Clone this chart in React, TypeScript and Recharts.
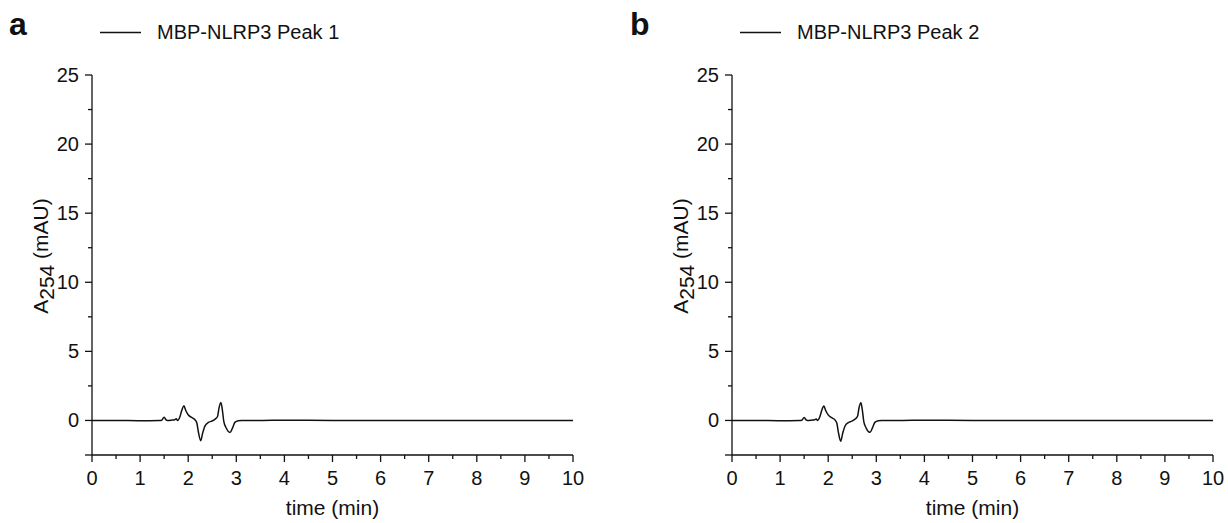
import { LineChart, Line, XAxis, YAxis, Legend } from 'recharts';

// retention times (min) sampled along the trace
const times = [
  0, 0.5, 1, 1.4, 1.45, 1.5, 1.54, 1.57, 1.65, 1.72, 1.75, 1.78, 1.83, 1.87, 1.91, 1.95,
  2.0, 2.07, 2.14, 2.18, 2.21, 2.26, 2.3, 2.35, 2.42, 2.49, 2.56, 2.61, 2.64, 2.68, 2.71,
  2.74, 2.79, 2.87, 2.92, 2.97, 3.04, 3.11, 3.5, 4, 5, 6, 7, 8, 9, 10,
];

// A254 (mAU), peak 1
const peak1 = [
  0, 0, -0.02, 0, 0.02, 0.24, 0.04, 0, 0.02, 0.05, 0.12, 0.0, 0.29, 0.77, 1.06, 0.72,
  0.41, 0.22, 0.05, -0.19, -0.8, -1.47, -0.92, -0.39, -0.14, -0.05, 0.1, 0.29, 0.89, 1.3, 0.77,
  -0.07, -0.55, -0.87, -0.55, -0.14, -0.02, 0, 0, 0.02, 0, 0, 0, 0, 0, 0,
];

// A254 (mAU), peak 2
const peak2 = [
  0, 0, -0.02, 0, 0.02, 0.22, 0.04, 0, 0.02, 0.05, 0.1, 0.0, 0.3, 0.78, 1.04, 0.7,
  0.4, 0.2, 0.04, -0.2, -0.82, -1.5, -0.95, -0.4, -0.15, -0.05, 0.1, 0.3, 0.9, 1.28, 0.75,
  -0.08, -0.55, -0.86, -0.54, -0.14, -0.02, 0, 0, 0.02, 0, 0, 0, 0, 0, 0,
];

const xTicks = [0, 0.5, 1, 1.5, 2, 2.5, 3, 3.5, 4, 4.5, 5, 5.5, 6, 6.5, 7, 7.5, 8, 8.5, 9, 9.5, 10];
const yTicks = [-2.5, 0, 2.5, 5, 7.5, 10, 12.5, 15, 17.5, 20, 22.5, 25];

const FONT = '"Liberation Sans", Arial, sans-serif';
const INK = '#111';

const XTick = (props: any) => {
  const { x, y, payload } = props;
  const major = Number.isInteger(payload.value);
  return (
    <g>
      <line x1={x} x2={x} y1={y} y2={y + (major ? 7 : 4)} stroke={INK} strokeWidth={1.3} />
      {major && (
        <text x={x} y={y + 30} textAnchor="middle" fontSize={20} fontFamily={FONT} fill={INK}>
          {payload.value}
        </text>
      )}
    </g>
  );
};

const YTick = (props: any) => {
  const { x, y, payload } = props;
  const major = payload.value % 5 === 0;
  const long = major || payload.value === -2.5;
  return (
    <g>
      <line x1={x - (long ? 7 : 4)} x2={x} y1={y} y2={y} stroke={INK} strokeWidth={1.3} />
      {major && (
        <text x={x - 13} y={y + 7} textAnchor="end" fontSize={20} fontFamily={FONT} fill={INK}>
          {payload.value}
        </text>
      )}
    </g>
  );
};

const XTitle = (props: any) => {
  const { x, y, width } = props.viewBox;
  return (
    <text x={x + width / 2} y={y + 60} textAnchor="middle" fontSize={21} fontFamily={FONT} fill={INK}>
      time (min)
    </text>
  );
};

const YTitle = (props: any) => {
  const { y, height } = props.viewBox;
  return (
    <text
      transform={`translate(48, ${y + height / 2 - 9}) rotate(-90)`}
      textAnchor="middle"
      fontSize={21}
      fontFamily={FONT}
      fill={INK}
    >
      <tspan>A</tspan>
      <tspan dy={6}>254</tspan>
      <tspan dy={-6}>{'\u00a0(mAU)'}</tspan>
    </text>
  );
};

const LegendBox = (props: any) => {
  const item = props.payload && props.payload[0];
  return (
    <svg width={260} height={26} style={{ display: 'block' }}>
      <line x1={0} x2={41} y1={12.5} y2={12.5} stroke={INK} strokeWidth={1.3} />
      <text x={57} y={19} fontSize={20} fontFamily={FONT} fill={INK}>
        {item ? item.value : ''}
      </text>
    </svg>
  );
};

interface PanelProps {
  values: number[];
  name: string;
  width: number;
  right: number;
}

const Panel = ({ values, name, width, right }: PanelProps) => {
  const data = times.map((t, i) => ({ time: t, value: values[i] }));
  return (
    <LineChart width={width} height={523} data={data} margin={{ top: 75, right, left: 0, bottom: 0 }}>
      <XAxis
        dataKey="time"
        type="number"
        domain={[0, 10]}
        ticks={xTicks}
        interval={0}
        height={68}
        tickSize={0}
        tickMargin={0}
        tickLine={false}
        tick={<XTick />}
        axisLine={{ stroke: INK, strokeWidth: 1.3 }}
        label={<XTitle />}
      />
      <YAxis
        type="number"
        domain={[-2.5, 25]}
        ticks={yTicks}
        interval={0}
        width={92}
        tickSize={0}
        tickMargin={0}
        tickLine={false}
        tick={<YTick />}
        axisLine={{ stroke: INK, strokeWidth: 1.3 }}
        label={<YTitle />}
      />
      <Legend
        layout="horizontal"
        verticalAlign="middle"
        align="center"
        wrapperStyle={{ top: 20, left: 100, width: 260 }}
        content={<LegendBox />}
      />
      <Line
        type="monotone"
        dataKey="value"
        name={name}
        stroke={INK}
        strokeWidth={1.5}
        dot={false}
        activeDot={false}
        isAnimationActive={false}
      />
    </LineChart>
  );
};

export default function App() {
  return (
    <div style={{ position: 'relative', width: 1228, height: 523, background: '#fff' }}>
      <style>{'body{margin:0;background:#fff}'}</style>
      <div style={{ position: 'absolute', left: 0, top: 0 }}>
        <Panel values={peak1} name="MBP-NLRP3 Peak 1" width={620} right={47} />
      </div>
      <div style={{ position: 'absolute', left: 640, top: 0 }}>
        <Panel values={peak2} name="MBP-NLRP3 Peak 2" width={588} right={15} />
      </div>
      <svg width={1228} height={50} style={{ position: 'absolute', left: 0, top: 0, pointerEvents: 'none' }}>
        <text x={9} y={34.5} fontSize={32} fontWeight="bold" fontFamily={FONT} fill={INK}>a</text>
        <text x={630} y={34.5} fontSize={32} fontWeight="bold" fontFamily={FONT} fill={INK}>b</text>
      </svg>
    </div>
  );
}
